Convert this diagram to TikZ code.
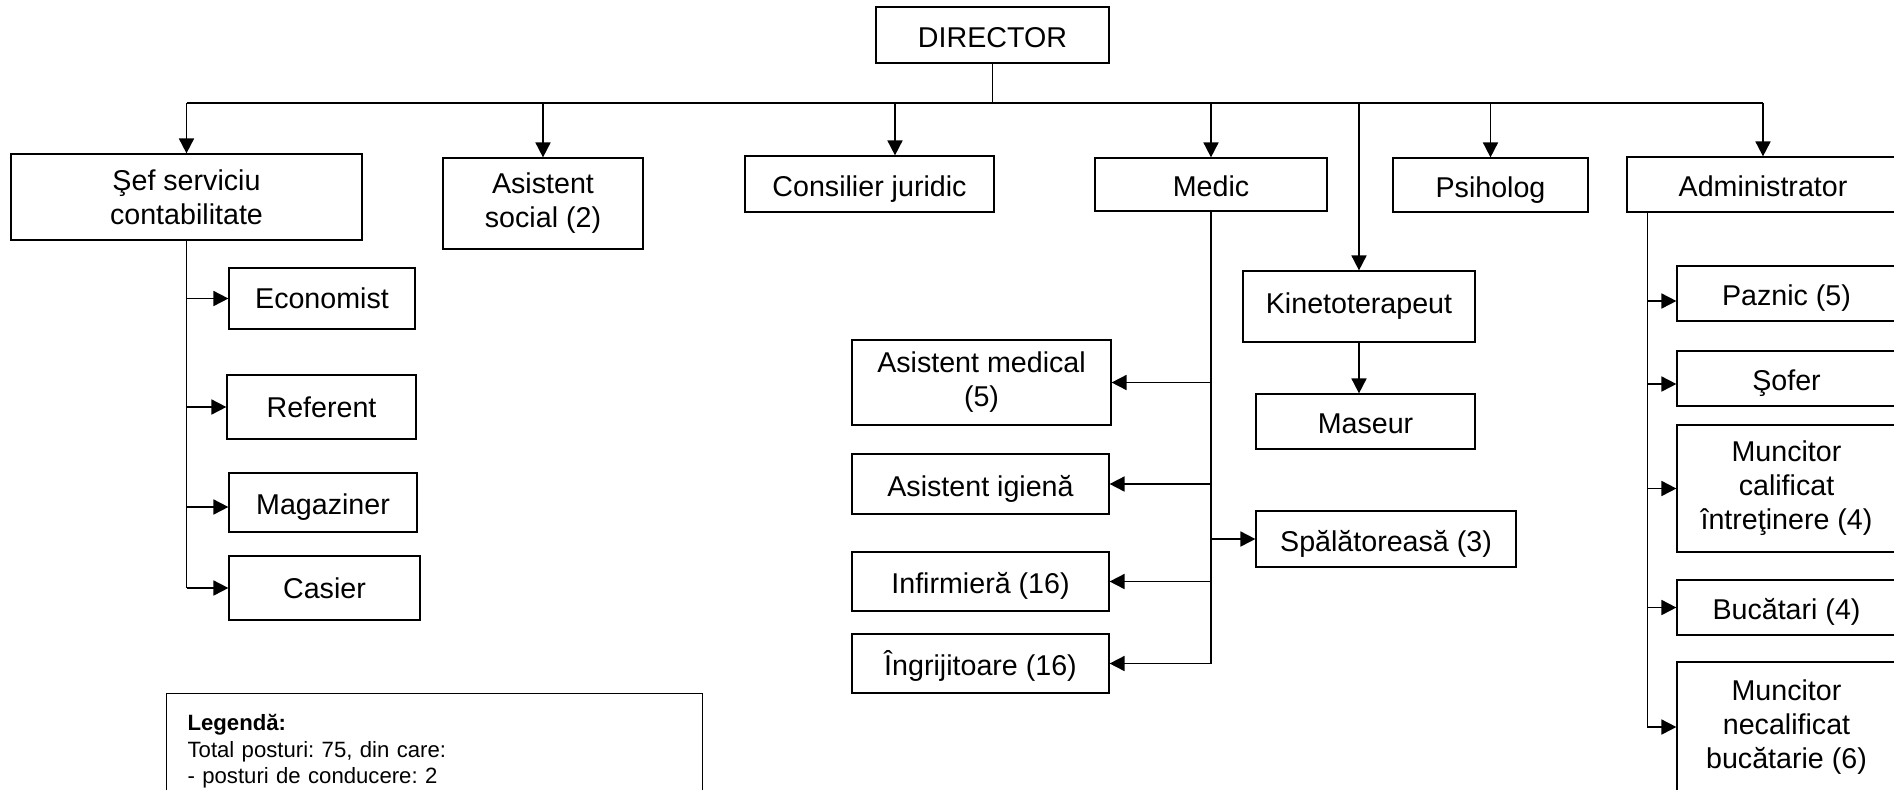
\documentclass[tikz,border=0pt]{standalone}
\usepackage{fontspec}
\setmainfont{Liberation Sans}
\usetikzlibrary{arrows.meta}
\frenchspacing
\newcommand{\boxfont}{\fontsize{16.3}{19.3}\selectfont}
\newcommand{\legfont}{\fontsize{12.6}{15.1}\selectfont}
\tikzstyle{post} = [rectangle, draw=black, line width=0.7pt, align=center, inner sep=0pt, font=\boxfont]
\tikzstyle{one} = [text height=15pt, text depth=1pt]
\tikzstyle{link} = [line width=1pt]
\tikzstyle{arrow} = [line width=1pt, -{Triangle[length=8.5pt, width=8.5pt]}]

\begin{document}
\begin{tikzpicture}[x=0.02cm, y=-0.02cm]
\useasboundingbox (0,0) rectangle (1894,789);
\clip (0,0) rectangle (1894,789);

\node (dir) [post, one, minimum width=4.66cm, minimum height=1.12cm] at (992.5,35) {DIRECTOR};

% first level
\node (sef) [post, minimum width=7.02cm, minimum height=1.72cm] at (186.5,197) {Şef serviciu\\contabilitate};
\node (asoc) [post, minimum width=4cm, minimum height=1.82cm] at (543,203.5) {Asistent\\social (2)};
\node (cons) [post, one, minimum width=4.98cm, minimum height=1.12cm] at (869.5,184) {Consilier juridic};
\node (medic) [post, one, minimum width=4.64cm, minimum height=1.06cm] at (1211,184.5) {Medic};
\node (psih) [post, one, minimum width=3.9cm, minimum height=1.08cm] at (1490.5,185) {Psiholog};
\node (admin) [post, one, minimum width=5.44cm, minimum height=1.1cm] at (1763,184.5) {Administrator};
\node (kin) [post, minimum width=4.64cm, minimum height=1.42cm] at (1359,306.5) {Kinetoterapeut};
\node (mas) [post, one, minimum width=4.38cm, minimum height=1.1cm] at (1365.5,421.5) {Maseur};

% contabilitate
\node (econ) [post, minimum width=3.72cm, minimum height=1.22cm] at (322,298.5) {Economist};
\node (ref) [post, minimum width=3.78cm, minimum height=1.28cm] at (321.5,407) {Referent};
\node (mag) [post, one, minimum width=3.76cm, minimum height=1.18cm] at (323,502.5) {Magaziner};
\node (cas) [post, minimum width=3.82cm, minimum height=1.28cm] at (324.5,588) {Casier};

% medical
\node (amed) [post, minimum width=5.18cm, minimum height=1.7cm] at (981.5,382.5) {Asistent medical\\(5)};
\node (aig) [post, one, minimum width=5.14cm, minimum height=1.2cm] at (980.5,484) {Asistent igienă};
\node (spal) [post, one, minimum width=5.2cm, minimum height=1.12cm] at (1386,539) {Spălătoreasă (3)};
\node (inf) [post, one, minimum width=5.14cm, minimum height=1.18cm] at (980.5,581.5) {Infirmieră (16)};
\node (ingr) [post, one, minimum width=5.14cm, minimum height=1.18cm] at (980.5,663.5) {Îngrijitoare (16)};

% administrativ
\node (paz) [post, one, minimum width=4.38cm, minimum height=1.1cm] at (1786.5,293.5) {Paznic (5)};
\node (sof) [post, one, minimum width=4.38cm, minimum height=1.1cm] at (1786.5,378.5) {Şofer};
\node (mcal) [post, minimum width=4.38cm, minimum height=2.54cm] at (1786.5,488.5) {Muncitor\\calificat\\întreţinere (4)};
\node (buc) [post, one, minimum width=4.38cm, minimum height=1.1cm] at (1786.5,607.5) {Bucătari (4)};
\node (mnec) [post, minimum width=4.38cm, minimum height=2.6cm] at (1786.5,727) {Muncitor\\necalificat\\bucătarie (6)};

\node (legenda) [draw, line width=0.7pt, anchor=north west, text width=9.88cm, inner xsep=0.42cm, inner ysep=0.42cm, text depth=3cm, align=left, font=\legfont] at (166,693) {\textbf{Legendă:}\\Total posturi: 75, din care:\\- posturi de conducere: 2};

% bus from director
\coordinate (bus) at (992.5,103);
\coordinate (consin) at ([xshift=0.51cm]cons.north);
\draw [link] (dir.south) -- (bus);
\draw [link] (sef.north |- bus) -- (admin.north |- bus);
\draw [arrow] (sef.north |- bus) -- (sef.north);
\draw [arrow] (asoc.north |- bus) -- (asoc.north);
\draw [arrow] (consin |- bus) -- (consin);
\draw [arrow] (medic.north |- bus) -- (medic.north);
\draw [arrow] (kin.north |- bus) -- (kin.north);
\draw [arrow] (psih.north |- bus) -- (psih.north);
\draw [arrow] (admin.north |- bus) -- (admin.north);
\draw [arrow] (kin.south) -- (kin.south |- mas.north);

% contabilitate
\draw [link] (sef.south) -- (sef.south |- cas.west);
\draw [arrow] (sef.south |- econ.west) -- (econ.west);
\draw [arrow] (sef.south |- ref.west) -- (ref.west);
\draw [arrow] ([yshift=-0.09cm]sef.south |- mag.west) -- ([yshift=-0.09cm]mag.west);
\draw [arrow] (sef.south |- cas.west) -- (cas.west);

% medical
\draw [link] (medic.south) -- (medic.south |- ingr.east);
\draw [arrow] (medic.south |- amed.east) -- (amed.east);
\draw [arrow] (medic.south |- aig.east) -- (aig.east);
\draw [arrow] (medic.south |- spal.west) -- (spal.west);
\draw [arrow] (medic.south |- inf.east) -- (inf.east);
\draw [arrow] (medic.south |- ingr.east) -- (ingr.east);

% administrativ
\coordinate (admline) at ([xshift=0.42cm]admin.south west);
\draw [link] (admline) -- (admline |- mnec.west);
\draw [arrow] ([yshift=-0.15cm]admline |- paz.west) -- ([yshift=-0.15cm]paz.west);
\draw [arrow] ([yshift=-0.11cm]admline |- sof.west) -- ([yshift=-0.11cm]sof.west);
\draw [arrow] (admline |- mcal.west) -- (mcal.west);
\draw [arrow] (admline |- buc.west) -- (buc.west);
\draw [arrow] (admline |- mnec.west) -- (mnec.west);

\end{tikzpicture}
\end{document}
